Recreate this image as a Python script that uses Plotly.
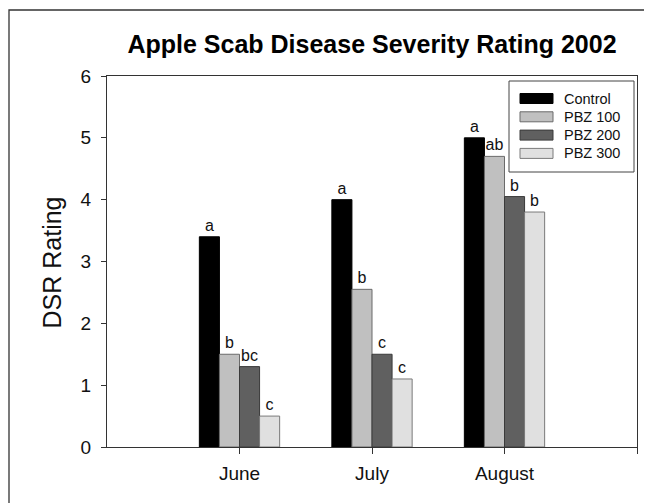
import plotly.graph_objects as go

# ---- data ----
months = ["June", "July", "August"]
month_pos = [0, 1, 2]
series_names = ["Control", "PBZ 100", "PBZ 200", "PBZ 300"]
control = [3.4, 4.0, 5.0]
pbz100 = [1.5, 2.55, 4.7]
pbz200 = [1.3, 1.5, 4.05]
pbz300 = [0.5, 1.1, 3.8]
letters_control = ["a", "a", "a"]
letters_pbz100 = ["b", "b", "ab"]
letters_pbz200 = ["bc", "c", "b"]
letters_pbz300 = ["c", "c", "b"]
y_ticks = [0, 1, 2, 3, 4, 5, 6]
x_tick_vals = [0, 1, 2, 3]
x_tick_text = ["June", "July", "August", ""]

series_values = [control, pbz100, pbz200, pbz300]
series_letters = [letters_control, letters_pbz100, letters_pbz200, letters_pbz300]
fill_colors = ["#000000", "#c0c0c0", "#606060", "#e0e0e0"]
line_colors = ["#000000", "#6a6a6a", "#3a3a3a", "#7a7a7a"]

FONT = "Liberation Sans, Arial, Helvetica, sans-serif"

fig = go.Figure()
for name, vals, lets, fc, lc in zip(series_names, series_values, series_letters, fill_colors, line_colors):
    fig.add_trace(go.Bar(
        x=month_pos, y=vals, name=name,
        marker=dict(color=fc, line=dict(color=lc, width=1)),
        text=lets, textposition="outside", textangle=0,
        constraintext="none", cliponaxis=False,
        textfont=dict(family=FONT, size=16, color="#111111"),
        showlegend=False,
    ))

# figure pixel geometry (page body adds an 8px offset)
W, H = 652, 503
L, R, T, B = 99, 629, 68, 439

def px_x(p):
    return (p - L) / (R - L)

def px_y(p):
    return (B - p) / (B - T)

# custom legend (box, swatches, labels)
LEG_X0, LEG_X1, LEG_Y0, LEG_Y1 = 501, 626, 73, 164
SW_X0, SW_X1, SW_H = 512, 545, 10
ROW0, ROW_STEP = 90.5, 18.3
TXT_X = 554

outer_path = "M {x0},{yb} L {x0},{yt} L {x1},{yt}".format(
    x0=px_x(1), yb=px_y(H + 30), yt=px_y(2), x1=px_x(W + 30))
shapes = [
    dict(type="path", xref="paper", yref="paper", path=outer_path,
         line=dict(color="#333333", width=1.3), layer="below"),
    dict(type="rect", xref="paper", yref="paper",
         x0=px_x(LEG_X0), x1=px_x(LEG_X1), y0=px_y(LEG_Y1), y1=px_y(LEG_Y0),
         line=dict(color="#444444", width=1), fillcolor="white", layer="above"),
]
annotations = [
    dict(text="DSR Rating", x=px_x(44), y=px_y(254.5), xref="paper", yref="paper",
         textangle=-90, showarrow=False, xanchor="center", yanchor="middle",
         font=dict(family=FONT, size=25, color="#111111")),
]
for i, (name, fc, lc) in enumerate(zip(series_names, fill_colors, line_colors)):
    cy = ROW0 + i * ROW_STEP
    shapes.append(dict(type="rect", xref="paper", yref="paper",
                       x0=px_x(SW_X0), x1=px_x(SW_X1),
                       y0=px_y(cy + SW_H / 2), y1=px_y(cy - SW_H / 2),
                       fillcolor=fc, line=dict(color=lc, width=1), layer="above"))
    annotations.append(dict(text=name, x=px_x(TXT_X), y=px_y(cy), xref="paper", yref="paper",
                            showarrow=False, xanchor="left", yanchor="middle",
                            font=dict(family=FONT, size=14.5, color="#111111")))

fig.update_layout(
    width=W, height=H,
    margin=dict(l=L, r=W - R, t=T, b=H - B, pad=0),
    paper_bgcolor="white", plot_bgcolor="white",
    barmode="group", bargap=0.394, bargroupgap=0,
    font=dict(family=FONT, color="#111111"),
    title=dict(text="<b>Apple Scab Disease Severity Rating 2002</b>",
               x=0.5, xref="paper", xanchor="center",
               y=1 - 36 / H, yref="container", yanchor="middle",
               font=dict(family=FONT, size=25, color="#000000")),
    showlegend=False,
    xaxis=dict(range=[-1, 3], tickvals=x_tick_vals, ticktext=x_tick_text,
               ticks="outside", ticklen=6, tickwidth=1.2, tickcolor="#333333",
               showline=True, linecolor="#333333", linewidth=1.3, mirror=True,
               showgrid=False, zeroline=False,
               tickfont=dict(family=FONT, size=19, color="#111111"),
               ticklabelstandoff=3),
    yaxis=dict(range=[0, 6], tickvals=y_ticks,
               ticks="outside", ticklen=5, tickwidth=1.2, tickcolor="#333333",
               showline=True, linecolor="#333333", linewidth=1.3, mirror=True,
               showgrid=False, zeroline=False,
               tickfont=dict(family=FONT, size=19, color="#111111"),
               ticklabelstandoff=6),
    annotations=annotations,
    shapes=shapes,
)

fig.write_html(
    "out.html",
    post_script="document.documentElement.style.overflow='hidden';document.body.style.overflow='hidden';",
)
